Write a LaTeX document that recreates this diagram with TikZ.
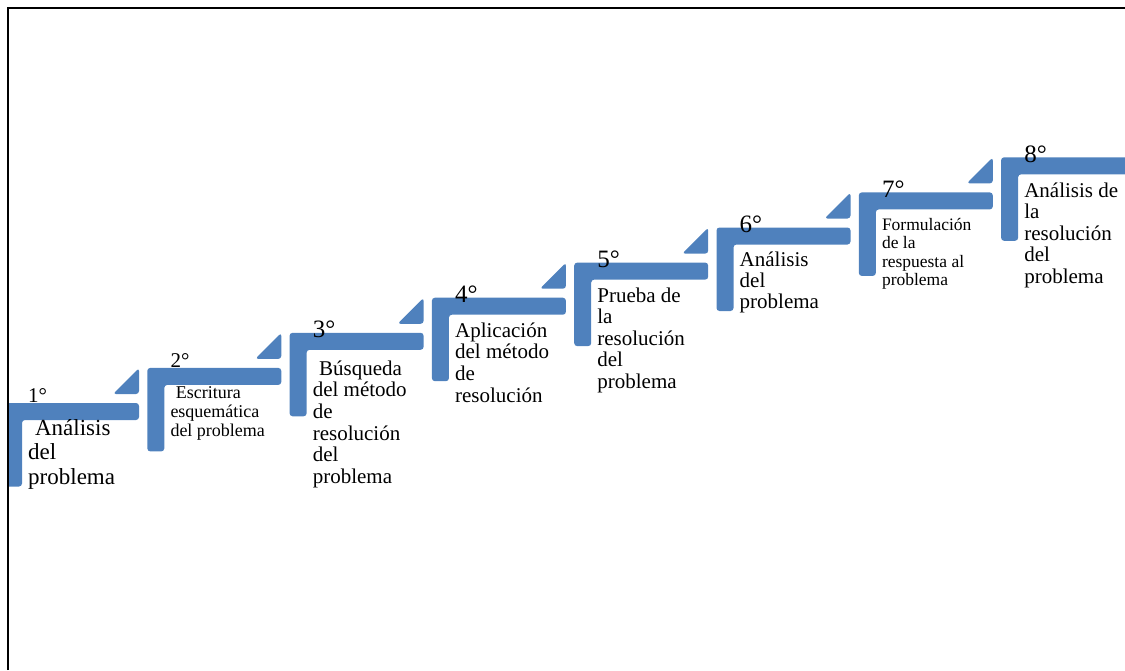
\documentclass[tikz,border=0pt]{standalone}
\usepackage{fontspec}
\setmainfont{Liberation Serif}
\definecolor{stepblue}{RGB}{79,129,189}
\newcommand\steplines[1]{\vtop{\lineskiplimit=-100pt\lineskip=0pt\halign{##\hfil\cr#1\crcr}}}
\newcommand\stepL[2]{%
  \fill[stepshape] (#1,#2) -- (#1+134,#2) -- (#1+134,#2+17) -- (#1+17,#2+17) -- (#1+17,#2+83.5) -- (#1,#2+83.5) -- cycle;}
\newcommand\stepT[2]{%
  \fill[stepshape] (#1+134,#2-9) -- (#1+108,#2-9) -- (#1+134,#2-35) -- cycle;}
\tikzset{
  stepshape/.style={fill=stepblue, rounded corners=3pt},
  numlabel/.style={anchor=base west, inner sep=0pt},
  bodylabel/.style={anchor=base west, inner sep=0pt},
  smallnum/.style={font=\fontsize{21}{22}\selectfont},
  bignum/.style={font=\fontsize{25}{26}\selectfont},
}
\begin{document}
\begin{tikzpicture}[x=1pt,y=-1pt]
\useasboundingbox (0,0) rectangle (1125,670);
\clip (0,0) rectangle (1125,670);
% steps
\begin{scope}
\clip (7,0) rectangle (1125,670);
\stepL{5}{403}
\end{scope}
\stepT{5}{403}
\stepL{147.3}{367.9}\stepT{147.3}{367.9}
\stepL{289.6}{332.8}\stepT{289.6}{332.8}
\stepL{431.9}{297.7}\stepT{431.9}{297.7}
\stepL{574.2}{262.6}\stepT{574.2}{262.6}
\stepL{716.5}{227.5}\stepT{716.5}{227.5}
\stepL{858.8}{192.4}\stepT{858.8}{192.4}
\stepL{1001.1}{157.3}
% numbers
\node[numlabel, smallnum] (d1) at (28,402) {1°};
\node[numlabel, smallnum] (d2) at (170.3,367) {2°};
\node[numlabel, bignum] (d3) at (312.6,337.8) {3°};
\node[numlabel, bignum] (d4) at (454.9,302.7) {4°};
\node[numlabel, bignum] (d5) at (597.2,267.6) {5°};
\node[numlabel, bignum] (d6) at (739.5,232.5) {6°};
\node[numlabel, bignum] (d7) at (881.8,197.4) {7°};
\node[numlabel, bignum] (d8) at (1024.1,162.3) {8°};
% texts
\node[bodylabel, font=\fontsize{23}{24.5}\selectfont] (t1) at (28,435)
  {\steplines{\hspace{0.3em}Análisis\cr del\cr problema}};
\node[bodylabel, font=\fontsize{18}{19}\selectfont] (t2) at (170.3,398)
  {\steplines{\hspace{0.3em}Escritura\cr esquemática\cr del problema}};
\node[bodylabel, font=\fontsize{21}{21.7}\selectfont] (t3) at (312.6,375)
  {\steplines{\hspace{0.3em}Búsqueda\cr del método\cr de\cr resolución\cr del\cr problema}};
\node[bodylabel, font=\fontsize{21}{21.7}\selectfont] (t4) at (454.9,337)
  {\steplines{Aplicación\cr del método\cr de\cr resolución}};
\node[bodylabel, font=\fontsize{21}{21.5}\selectfont] (t5) at (597.2,302)
  {\steplines{Prueba de\cr la\cr resolución\cr del\cr problema}};
\node[bodylabel, font=\fontsize{21}{21}\selectfont] (t6) at (739.5,266)
  {\steplines{Análisis\cr del\cr problema}};
\node[bodylabel, font=\fontsize{17.5}{18.5}\selectfont] (t7) at (881.8,230)
  {\steplines{Formulación\cr de la\cr respuesta al\cr problema}};
\node[bodylabel, font=\fontsize{21}{21.5}\selectfont] (t8) at (1024.1,197)
  {\steplines{Análisis de\cr la\cr resolución\cr del\cr problema}};
% frame
\draw[line width=2pt] (7.5,670) -- (7.5,7.5) -- (1125,7.5);
\end{tikzpicture}
\end{document}
